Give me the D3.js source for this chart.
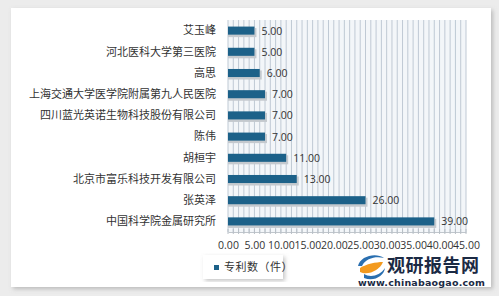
<!DOCTYPE html>
<html><head><meta charset="utf-8">
<script src="https://cdn.jsdelivr.net/npm/d3@7"></script>
<style>
body{margin:0;background:#ececec;}
svg{display:block;font-family:"Noto Sans CJK SC","Noto Sans",sans-serif;}
</style></head>
<body>
<svg id="c" width="499" height="296"></svg>
<script>
const categories = ["艾玉峰","河北医科大学第三医院","高思","上海交通大学医学院附属第九人民医院","四川蓝光英诺生物科技股份有限公司","陈伟","胡桓宇","北京市富乐科技开发有限公司","张英泽","中国科学院金属研究所"];
const values = [5,5,6,7,7,7,11,13,26,39];
const xTicks = [0,5,10,15,20,25,30,35,40,45];
const seriesName = "专利数（件）";

const svg = d3.select("#c");
const defs = svg.append("defs");
const f = defs.append("filter").attr("id","sh").attr("x","-5%").attr("y","-5%").attr("width","115%").attr("height","115%");
f.append("feDropShadow").attr("dx",2).attr("dy",2).attr("stdDeviation",2).attr("flood-color","#888").attr("flood-opacity",0.5);

// card
svg.append("rect").attr("x",11).attr("y",8).attr("width",480).attr("height",279).attr("fill","#fff").attr("filter","url(#sh)");

const x = d3.scaleLinear().domain([0,45]).range([228,466]);
const y = d3.scaleBand().domain(categories).range([20,232]).paddingInner(0.62).paddingOuter(0.31);

// plot background + minor grid
svg.append("rect").attr("x",x(0)).attr("y",20).attr("width",x(45)-x(0)).attr("height",212).attr("fill","#f3f6f9");
const g = svg.append("g");
g.selectAll("line.grid").data(d3.range(0,46)).join("line")
  .attr("x1",d=>x(d)).attr("x2",d=>x(d)).attr("y1",20).attr("y2",232)
  .attr("stroke","#bfc9d4").attr("stroke-width",1);

// x axis
const ax = svg.append("g").attr("transform","translate(0,232)")
  .call(d3.axisBottom(x).tickValues(xTicks).tickFormat(d=>d.toFixed(2)).tickSize(0).tickPadding(10));
ax.select(".domain").attr("stroke","#c0c6cc");
ax.selectAll("text").attr("font-size",10.5).attr("fill","#333").attr("font-family","'Open Sans','DejaVu Sans',sans-serif");
svg.append("g").selectAll("line").data(d3.range(0,46)).join("line")
  .attr("x1",d=>x(d)).attr("x2",d=>x(d)).attr("y1",229).attr("y2",234).attr("stroke","#b8bfc6");

// y labels
svg.append("g").selectAll("text").data(categories).join("text")
  .attr("x",216).attr("y",d=>y(d)+y.bandwidth()/2).attr("dy","0.35em")
  .attr("text-anchor","end").attr("font-size",11).attr("fill","#333").text(d=>d);

// bar shadows
svg.append("g").selectAll("rect").data(values).join("rect")
  .attr("x",x(0)).attr("y",(d,i)=>y(categories[i])+1.5)
  .attr("width",d=>x(d)-x(0)+2).attr("height",y.bandwidth()+1)
  .attr("fill","#c4c9ce");
// bars
svg.append("g").selectAll("rect").data(values).join("rect")
  .attr("x",x(0)).attr("y",(d,i)=>y(categories[i]))
  .attr("width",d=>x(d)-x(0)).attr("height",y.bandwidth())
  .attr("fill","#1c6189");
// value labels
svg.append("g").selectAll("text").data(values).join("text")
  .attr("x",d=>x(d)+7).attr("y",(d,i)=>y(categories[i])+y.bandwidth()/2).attr("dy","0.38em")
  .attr("font-size",10.5).attr("fill","#333").attr("font-family","'Open Sans','DejaVu Sans',sans-serif")
  .text(d=>d.toFixed(2));

// legend
svg.append("rect").attr("x",203).attr("y",255).attr("width",80).attr("height",24).attr("fill","#fff").attr("filter","url(#sh)");
svg.append("rect").attr("x",214).attr("y",265).attr("width",5).attr("height",5).attr("fill","#1c6189");
svg.append("text").attr("x",224).attr("y",271).attr("font-size",11).attr("fill","#333").attr("letter-spacing",0.5).text(seriesName);

// watermark
const w = svg.append("g");
w.append("path").attr("d","M358,266 C360,256 376,252 384,258 C376,256 366,258 362,266 Z").attr("fill","#2a6fb0");
w.append("path").attr("d","M360,268 C366,264 376,262 383,262 C380,270 368,276 360,272 Z").attr("fill","#f39a1e");
w.append("path").attr("d","M364,274 C370,278 380,276 385,268 C384,276 374,282 364,278 Z").attr("fill","#2a6fb0");
w.append("text").attr("x",387).attr("y",272).attr("font-size",18).attr("font-weight","bold").attr("fill","#1b2a44").attr("letter-spacing",0.5).text("观研报告网");
w.append("text").attr("x",358).attr("y",286).attr("font-size",9.5).attr("font-weight","bold").attr("fill","#1b2a44").attr("font-family","'DejaVu Sans',sans-serif").attr("letter-spacing",0.2).text("www.chinabaogao.com");
</script>
</body></html>
